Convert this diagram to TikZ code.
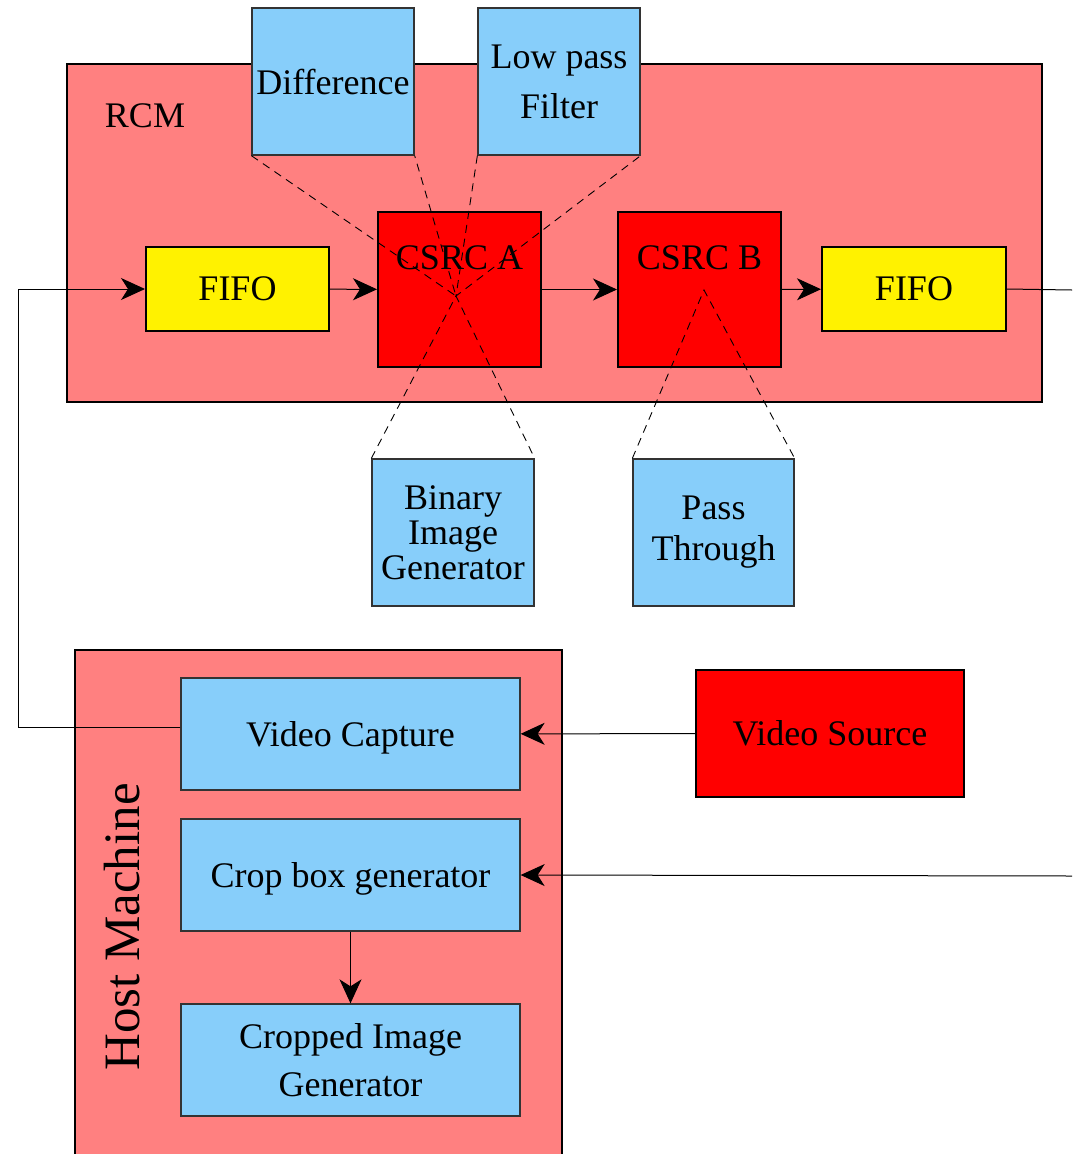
\documentclass[tikz,border=0pt]{standalone}
\usepackage{fontspec}
\setmainfont{Liberation Serif}
\usetikzlibrary{arrows.meta}
\definecolor{rcmred}{HTML}{FF8080}
\definecolor{skyblue}{HTML}{87CEFA}
\begin{document}
\begin{tikzpicture}[x=1pt, y=-1pt,
    every node/.style={font=\fontsize{36}{44}\selectfont, inner sep=0pt},
    frame/.style={draw, line width=2.5pt, fill=rcmred},
    unit/.style={draw=black!80, line width=1.3pt, fill=skyblue, align=center},
    core/.style={draw, line width=2pt, fill=red},
    buffer/.style={draw, line width=2pt, fill=yellow, text depth=0pt},
    link/.style={line width=1pt, -{Stealth[length=24pt, width=22pt, inset=7pt]}},
    wire/.style={line width=1pt},
    hint/.style={dashed, dash pattern=on 8pt off 6pt, line width=0.9pt}]
    \useasboundingbox (0,0) rectangle (1072,1154);
    \clip (0,0) rectangle (1072,1154);

    % Containers
    \node[frame, minimum width=975pt, minimum height=338pt] (rcm) at (554.5,233) {};
    \node (rcmtxt) at (145,116) {RCM};
    \node[frame, minimum width=487pt, minimum height=530pt] (host) at (318.5,915) {};
    \node[rotate=90, font=\fontsize{51}{60}\selectfont] (hosttxt) at (122,927) {Host Machine};

    % Pipeline
    \node[buffer, minimum width=183pt, minimum height=84pt] (fifoa) at (237.5,289) {FIFO};
    \node[core, minimum width=163pt, minimum height=155pt] (csrca) at (459.5,289.5) {};
    \node (csrcatxt) at (459.5,258) {CSRC A};
    \node[core, minimum width=163pt, minimum height=155pt] (csrcb) at (699.5,289.5) {};
    \node (csrcbtxt) at (699.5,258) {CSRC B};
    \node[buffer, minimum width=184pt, minimum height=84pt] (fifob) at (914,289) {FIFO};

    % Plug-in units
    \node[unit, minimum width=162pt, minimum height=147pt] (diff) at (333,81.5) {Difference};
    \node[unit, minimum width=162pt, minimum height=147pt,
        font=\fontsize{36}{50}\selectfont] (lpf) at (559,81.5) {Low pass\\Filter};
    \node[unit, minimum width=162pt, minimum height=147pt,
        font=\fontsize{36}{35}\selectfont] (big) at (453,532.5) {Binary\\Image\\Generator};
    \node[unit, minimum width=161pt, minimum height=147pt,
        font=\fontsize{36}{41}\selectfont] (pass) at (713.5,532.5) {Pass\\Through};

    % Host side
    \node[unit, text depth=0pt, minimum width=339pt, minimum height=112pt] (vcap) at (350.5,734) {Video Capture};
    \node[unit, text depth=0pt, minimum width=339pt, minimum height=112pt] (crop) at (350.5,875) {Crop box generator};
    \node[unit, minimum width=339pt, minimum height=112pt,
        font=\fontsize{36}{48}\selectfont] (cig) at (350.5,1060) {Cropped Image\\Generator};
    \node[core, text depth=0pt, minimum width=268pt, minimum height=127pt] (vsrc) at (830,733.5) {Video Source};

    % Hinge points
    \coordinate (xa) at (456,296);
    \coordinate (xb) at (704,290);
    \coordinate (loopl) at (18,727);
    \coordinate (outr) at (1072,290);
    \coordinate (inr) at (1072,876);

    % Data flow
    \draw[link] ([yshift=7pt]vcap.west) -- (loopl) |- (fifoa.west);
    \draw[link] (fifoa) -- (csrca);
    \draw[link] (csrca) -- (csrcb);
    \draw[link] (csrcb) -- (fifob);
    \draw[wire] (fifob.east) -- (outr);
    \draw[link] (vsrc) -- (vcap);
    \draw[link] (inr) -- (crop.east);
    \draw[link] (crop) -- (cig);

    % Dashed hints
    \foreach \u in {diff, lpf} {
        \draw[hint] (\u.south west) -- (xa) -- (\u.south east);
    }
    \foreach \u/\c in {big/xa, pass/xb} {
        \draw[hint] (\u.north west) -- (\c) -- (\u.north east);
    }
\end{tikzpicture}
\end{document}
